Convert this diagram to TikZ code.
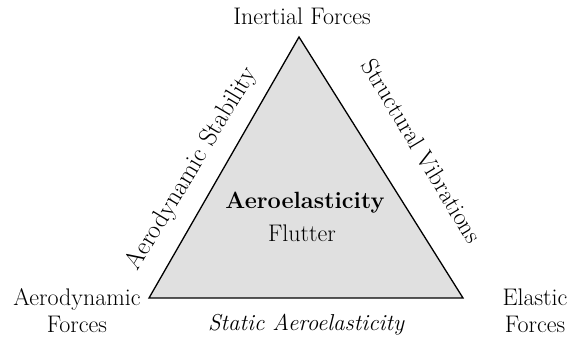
\documentclass[tikz,border=0pt]{standalone}
\begin{document}
\begin{tikzpicture}[x=1pt,y=1pt,
  lbl/.style={font=\fontsize{24}{27}\selectfont, inner sep=0pt, align=center},
  tri/.style={draw=black, line width=1.3pt, fill=black!12, line join=miter}]
\useasboundingbox (0,0) rectangle (569,339);
\coordinate (T) at (299,302);
\coordinate (L) at (149,41);
\coordinate (R) at (463,41);
\draw[tri] (T) -- (L) -- (R) -- cycle;
\node[lbl] (inertial) at (302,323) {Inertial Forces};
\node[lbl] (aero) at (77,28) {Aerodynamic\\Forces};
\node[lbl] (elastic) at (535,28) {Elastic\\Forces};
\node[lbl, font=\fontsize{23}{27}\selectfont\itshape] (static) at (306,14) {Static Aeroelasticity};
\node[lbl, font=\fontsize{23.5}{27}\selectfont\bfseries] (ae) at (305,136) {Aeroelasticity};
\node[lbl] (flutter) at (302,106) {Flutter};
\node[lbl, font=\fontsize{25.7}{27}\selectfont, rotate=59] (stab) at (192,170) {Aerodynamic Stability};
\node[lbl, font=\fontsize{24.5}{27}\selectfont, rotate=-59] (vib) at (422,188) {Structural Vibrations};
\end{tikzpicture}
\end{document}
